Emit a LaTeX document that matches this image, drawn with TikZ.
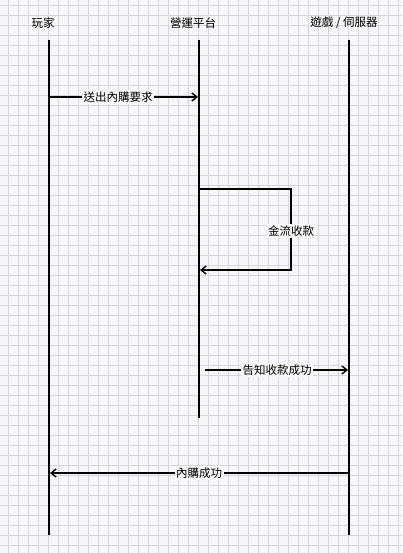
\documentclass[tikz,border=0pt]{standalone}
\usepackage{fontspec}
\setmainfont{Noto Sans CJK TC}
\usetikzlibrary{arrows.meta}
\definecolor{gridc}{HTML}{D6D6DC}
\definecolor{bgc}{HTML}{F7F7F9}
\tikzset{
  lifeline/.style={line width=1.6pt, black},
  msg/.style={line width=1.6pt, black, -{Straight Barb[length=5pt,width=8pt,line width=1.4pt]}},
  lbl/.style={fill=bgc, inner sep=1.5pt, font=\fontsize{11.5}{12}\selectfont},
  head/.style={inner sep=0pt, font=\fontsize{11.5}{12}\selectfont},
}
\begin{document}
\begin{tikzpicture}[x=1pt,y=-1pt]
\useasboundingbox (0,0) rectangle (402,553);
\fill[bgc] (0,0) rectangle (402,553);
\foreach \i in {0,...,39} { \draw[gridc, line width=0.6pt] ({8+10*\i},0) -- ({8+10*\i},553); }
\foreach \j in {0,...,54} { \draw[gridc, line width=0.6pt] (0,{5+10*\j}) -- (402,{5+10*\j}); }

\node[head] (hA) at (43,23) {玩家};
\node[head] (hB) at (193,23) {營運平台};
\node[head] (hC) at (344,23) {遊戲 / 伺服器};

\coordinate (a0) at (49,40);  \coordinate (a1) at (49,535);
\coordinate (b0) at (199,40); \coordinate (b1) at (199,418);
\coordinate (c0) at (349,40); \coordinate (c1) at (349,535);
\draw[lifeline] (a0) -- (a1);
\draw[lifeline] (b0) -- (b1);
\draw[lifeline] (c0) -- (c1);

% message 1
\coordinate (m1s) at (49,97); \coordinate (m1e) at (198,97);
\draw[msg] (m1s) -- (m1e);
\node[lbl] (l1) at (118,97) {送出內購要求};

% self loop
\coordinate (s0) at (199,189); \coordinate (s1) at (291,189);
\coordinate (s2) at (291,270); \coordinate (s3) at (200,270);
\draw[msg] (s0) -- (s1) -- (s2) -- (s3);
\node[lbl] (l2) at (291,231) {金流收款};

% message 3
\coordinate (m3s) at (205,370); \coordinate (m3e) at (348,370);
\draw[msg] (m3s) -- (m3e);
\node[lbl] (l3) at (277,370) {告知收款成功};

% message 4
\coordinate (m4s) at (349,473); \coordinate (m4e) at (50,473);
\draw[msg] (m4s) -- (m4e);
\node[lbl] (l4) at (199,473) {內購成功};
\end{tikzpicture}
\end{document}
